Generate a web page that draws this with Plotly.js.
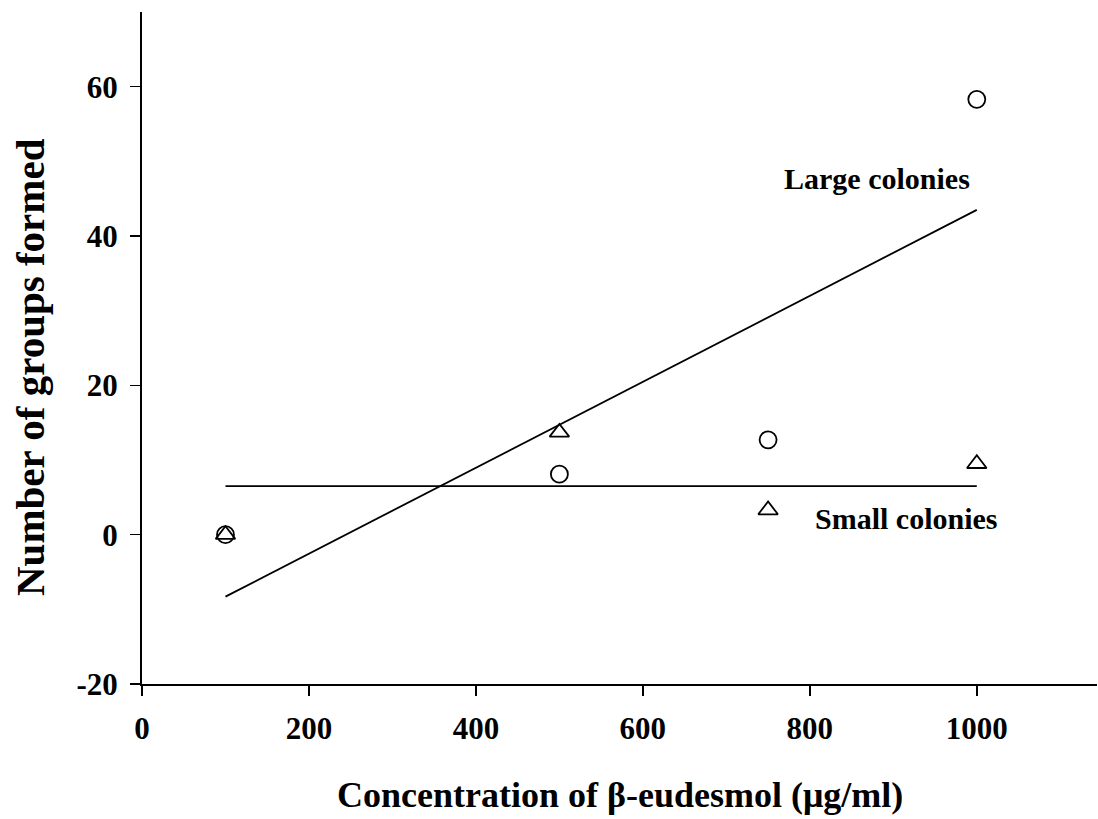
<!DOCTYPE html>
<html>
<head>
<meta charset="utf-8">
<script src="https://cdn.plot.ly/plotly-3.0.1.min.js"></script>
<style>html,body{margin:0;padding:0;background:#fff;}#chart{width:1098px;height:819px;}</style>
</head>
<body>
<div id="chart"></div>
<script>
// Data
const concentrations = [100, 500, 750, 1000];
const largeColonies = [0, 8.1, 12.7, 58.3];
const smallColonies = [0, 13.7, 3.3, 9.5];
const fitX = [100, 1000];
const largeFit = [-8.3, 43.5];
const smallFit = [6.5, 6.5];
const xTicks = [0, 200, 400, 600, 800, 1000];
const yTicks = [-20, 0, 20, 40, 60];

const serif = "'Liberation Serif', 'Times New Roman', serif";
const traces = [
  {x: fitX, y: largeFit, mode: 'lines', line: {color: '#000', width: 1.8}, name: 'Large fit', hoverinfo: 'skip'},
  {x: fitX, y: smallFit, mode: 'lines', line: {color: '#000', width: 1.8}, name: 'Small fit', hoverinfo: 'skip'},
  {x: concentrations, y: largeColonies, mode: 'markers', name: 'Large colonies',
   marker: {symbol: 'circle-open', size: 17, color: '#000', line: {width: 1.8, color: '#000'}}},
  {x: concentrations, y: smallColonies, mode: 'markers', name: 'Small colonies',
   marker: {symbol: 'triangle-up-open', size: 17, color: '#000', line: {width: 1.8, color: '#000'}}}
];

const layout = {
  width: 1098, height: 819,
  margin: {l: 142, r: 1, t: 12, b: 135},
  showlegend: false,
  paper_bgcolor: '#fff', plot_bgcolor: '#fff',
  font: {family: serif, color: '#000'},
  xaxis: {
    range: [0, 1144], tickvals: xTicks, ticktext: xTicks.map(String),
    showgrid: false, zeroline: false, showline: true, linecolor: '#000', linewidth: 2,
    ticks: 'outside', ticklen: 10, tickwidth: 1.5, tickcolor: '#000',
    ticklabelstandoff: 6,
    tickfont: {family: serif, size: 31, color: '#000', weight: 'bold'}
  },
  yaxis: {
    range: [-20, 70], tickvals: yTicks, ticktext: yTicks.map(String),
    showgrid: false, zeroline: false, showline: true, linecolor: '#000', linewidth: 2,
    ticks: 'outside', ticklen: 10, tickwidth: 1.5, tickcolor: '#000',
    ticklabelstandoff: 6,
    tickfont: {family: serif, size: 31, color: '#000', weight: 'bold'}
  },
  annotations: [
    {xref: 'paper', yref: 'paper', x: 0.5, y: -(795 - 684) / 672,
     text: 'Concentration of β-eudesmol (μg/ml)', showarrow: false,
     xanchor: 'center', yanchor: 'middle',
     font: {family: serif, size: 36, color: '#000', weight: 'bold'}},
    {xref: 'paper', yref: 'paper', x: -(142 - 30) / 955, y: (684 - 367) / 672,
     text: 'Number of groups formed', showarrow: false, textangle: -90,
     xanchor: 'center', yanchor: 'middle',
     font: {family: serif, size: 41, color: '#000', weight: 'bold'}},
    {xref: 'x', yref: 'y', x: 880, y: 47.7, text: 'Large colonies', showarrow: false,
     xanchor: 'center', yanchor: 'middle',
     font: {family: serif, size: 30, color: '#000', weight: 'bold'}},
    {xref: 'x', yref: 'y', x: 916, y: 2.2, text: 'Small colonies', showarrow: false,
     xanchor: 'center', yanchor: 'middle',
     font: {family: serif, size: 30, color: '#000', weight: 'bold'}}
  ]
};

Plotly.newPlot('chart', traces, layout, {displayModeBar: false, staticPlot: true});
</script>
</body>
</html>
